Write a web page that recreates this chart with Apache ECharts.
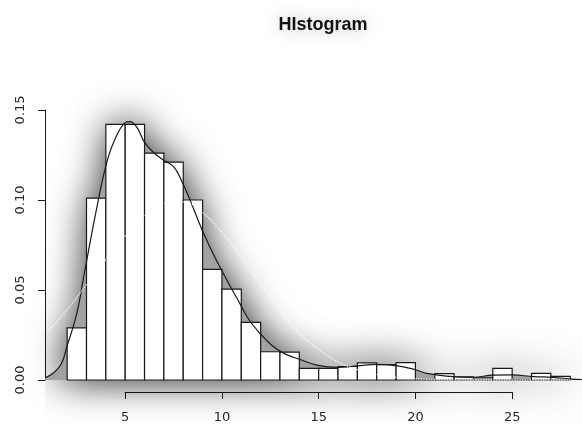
<!DOCTYPE html>
<html><head><meta charset="utf-8">
<script src="https://cdn.jsdelivr.net/npm/echarts@6/dist/echarts.min.js"></script>
<style>html,body{margin:0;padding:0;background:#fff}#c{width:582px;height:424px}</style>
</head><body><div id="c"></div>
<script>
const titleText = 'HIstogram';
const breaks = [2,3,4,5,6,7,8,9,10,11,12,13,14,15,16,17,18,19,20,21,22,23,24,25,26,27,28];
const densities = [0.029,0.101,0.142,0.142,0.126,0.121,0.100,0.0615,0.0505,0.032,0.0157,0.0155,
  0.0065,0.0065,0.0075,0.0095,0.0085,0.0097,0,0.0035,0.0018,0.0012,0.0065,0,0.0037,0.002];
const densityX = [0.86,1.3,1.7,2.0,2.5,2.9,3.5,4.0,4.4,5.0,5.25,5.6,6.0,6.45,7.0,7.5,7.9,8.35,8.95,
  9.55,10.25,10.95,11.3,11.95,12.6,13.2,14.0,14.9,16.0,17.0,18.0,19.0,20.0,20.6,21.6,23.0,24.0,25.0,26.1,27.1,28.1,28.6];
const densityY = [0.0012,0.004,0.009,0.019,0.037,0.060,0.094,0.119,0.132,0.143,0.1435,0.1405,0.132,0.1265,
  0.122,0.1185,0.111,0.100,0.084,0.070,0.0556,0.042,0.035,0.026,0.019,0.0148,0.0115,0.0083,0.007,0.0078,
  0.0087,0.0080,0.0057,0.0037,0.0022,0.0015,0.0027,0.0028,0.0019,0.0015,0.0005,0.0002];
const normalX = [1,2,3,4,5,6,7,8,9,10,11,12,13,14,15,16,17,18,19,20,21,22,23,24,25,26,27,28];
const normalY = [0.027,0.039,0.053,0.067,0.080,0.091,0.098,0.099,0.093,0.082,0.068,0.053,0.039,0.026,
  0.017,0.010,0.0058,0.0031,0.0015,0.0007,0.0003,0.0001,0,0,0,0,0,0];
const xTicks = [5,10,15,20,25];
const yTicks = [0,0.05,0.10,0.15];

const chart = echarts.init(document.getElementById('c'), null, {renderer:'canvas'});
const densityData = densityX.map((x,i)=>[x, densityY[i]]);
const normalData = normalX.map((x,i)=>[x, normalY[i]]);
const barData = densities.map((d,i)=>[breaks[i], breaks[i+1], d]);
const ink = '#1a1a1a';
const labelFont = {fontFamily:'DejaVu Sans', fontSize:13, color:'#2a2a2a'};
const shadeFill = '#a2a2a2';
const shadeShadow = {shadowBlur:38, shadowColor:'rgba(0,0,0,0.5)'};

chart.setOption({
  animation:false,
  backgroundColor:'#fff',
  title:{text:titleText, left:318, top:11, textAlign:'center',
    textStyle:{fontFamily:'Liberation Sans', fontWeight:'bold', fontSize:18, color:'#111',
      textShadowColor:'rgba(0,0,0,0.3)', textShadowBlur:18}},
  grid:[
    {left:45, right:0, top:110, bottom:44},
    {left:125.2, width:387, top:110, bottom:31}
  ],
  xAxis:[
    {type:'value', gridIndex:0, min:0.855, max:28.61, show:false},
    {type:'value', gridIndex:1, min:xTicks[0], max:xTicks[xTicks.length-1], interval:xTicks[1]-xTicks[0],
      axisLine:{show:true, lineStyle:{color:ink, width:1}},
      axisTick:{show:true, length:7, lineStyle:{color:ink}},
      axisLabel:Object.assign({margin:19}, labelFont),
      splitLine:{show:false}}
  ],
  yAxis:[
    {type:'value', gridIndex:0, min:yTicks[0], max:yTicks[yTicks.length-1], interval:yTicks[1]-yTicks[0],
      axisLine:{show:true, lineStyle:{color:ink, width:1}},
      axisTick:{show:true, length:7, lineStyle:{color:ink}},
      axisLabel:Object.assign({margin:18, rotate:90, formatter:v=>v.toFixed(2)}, labelFont),
      splitLine:{show:false}},
    {type:'value', gridIndex:1, min:0, max:1, show:false}
  ],
  series:[
    {type:'custom', name:'shadowBars', xAxisIndex:0, yAxisIndex:0, data:[[breaks[0],0]], clip:false, silent:true, z:1,
      renderItem:function(params, api){
        const pts = [api.coord([breaks[0],0])];
        densities.forEach((d,i)=>{ pts.push(api.coord([breaks[i], d])); pts.push(api.coord([breaks[i+1], d])); });
        pts.push(api.coord([breaks[breaks.length-1],0]));
        return {type:'polygon', shape:{points:pts},
          style:Object.assign({fill:shadeFill}, shadeShadow)};
      }},
    {type:'line', name:'shadowArea', xAxisIndex:0, yAxisIndex:0, data:densityData, smooth:0.4,
      showSymbol:false, clip:false, silent:true, z:1,
      lineStyle:{width:0, color:'rgba(0,0,0,0)'},
      areaStyle:Object.assign({color:shadeFill, opacity:1}, shadeShadow)},
    {type:'custom', name:'bars', xAxisIndex:0, yAxisIndex:0, data:barData, encode:{x:[0,1], y:2}, clip:false, z:2,
      renderItem:function(params, api){
        const p0 = api.coord([api.value(0), api.value(2)]);
        const p1 = api.coord([api.value(1), 0]);
        return {type:'rect', shape:{x:p0[0], y:p0[1], width:p1[0]-p0[0], height:p1[1]-p0[1]},
          style:{fill:'#fff', stroke:ink, lineWidth:1.2}};
      }},
    {type:'line', name:'density', xAxisIndex:0, yAxisIndex:0, data:densityData, smooth:0.4,
      showSymbol:false, z:3, lineStyle:{color:ink, width:1.2}},
    {type:'line', name:'normal', xAxisIndex:0, yAxisIndex:0, data:normalData, smooth:0.4,
      showSymbol:false, z:4, lineStyle:{color:'rgba(255,255,255,0.9)', width:1.3, type:'dotted'}}
  ]
});
</script>
</body></html>
